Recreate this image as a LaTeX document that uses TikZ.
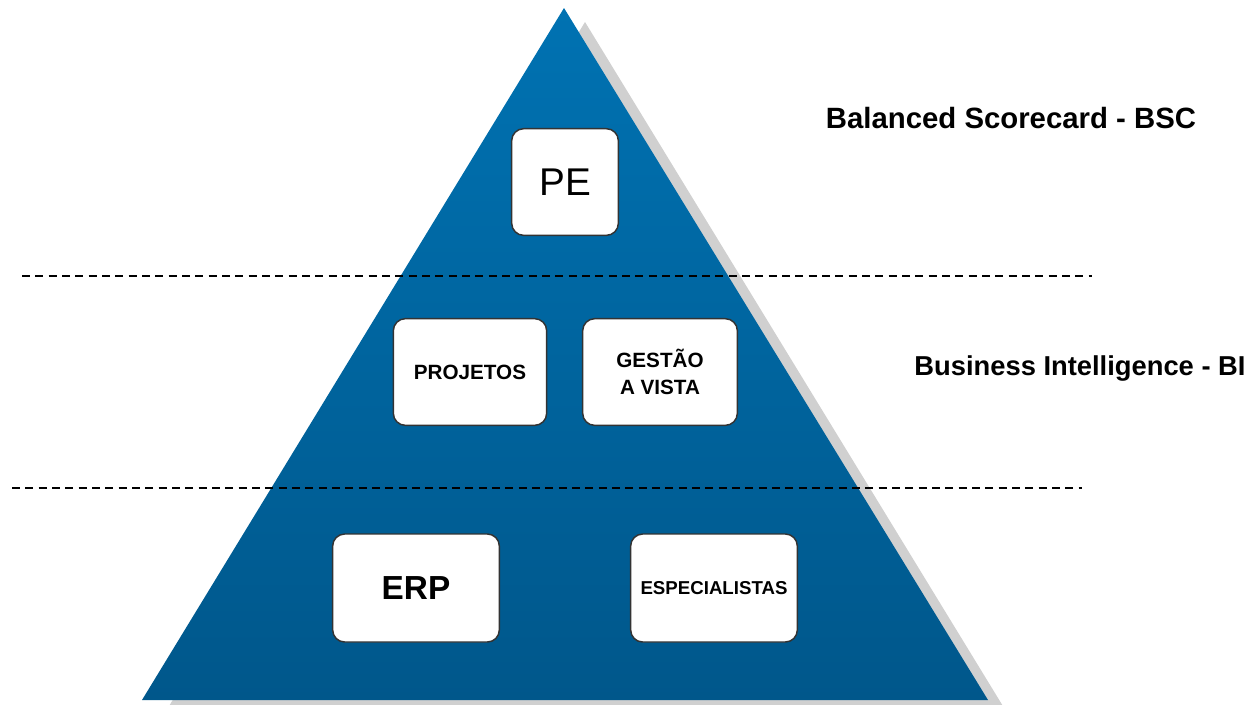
\documentclass[tikz,border=0pt]{standalone}
\usepackage{fontspec}
\setmainfont{Liberation Sans}
\definecolor{pyrTop}{RGB}{0,114,178}
\definecolor{pyrBot}{RGB}{0,87,139}
\definecolor{pyrShadow}{RGB}{208,208,208}

\begin{document}
\begin{tikzpicture}[x=0.75pt,y=-0.75pt,
    block/.style={rectangle, draw=black!80, line width=1.1pt, fill=white, rounded corners=9pt, align=center, inner sep=0pt},
    sep/.style={draw=black, line width=1.4pt, dash pattern=on 6pt off 4pt},
    level/.style={font=\fontsize{21}{25}\selectfont\bfseries, anchor=center}
]
    \useasboundingbox (0,0) rectangle (1248,704);
    % pyramid with its shadow
    \fill[pyrShadow] (585,22) -- (163,716) -- (1009,716) -- cycle;
    \shade[top color=pyrTop, bottom color=pyrBot] (564,8) -- (142,700) -- (988,700) -- cycle;

    % boxes
    \node[block, minimum width=80pt, minimum height=80pt, font=\fontsize{29}{32}\selectfont] (pe) at (565,182) {PE};
    \node[block, minimum width=115pt, minimum height=80pt, font=\fontsize{15.5}{20}\selectfont\bfseries] (proj) at (470,372) {PROJETOS};
    \node[block, minimum width=116pt, minimum height=80pt, font=\fontsize{15.5}{20}\selectfont\bfseries] (gest) at (660,372) {GESTÃO\\A VISTA};
    \node[block, minimum width=125pt, minimum height=81pt, font=\fontsize{25}{28}\selectfont\bfseries] (erp) at (416,588) {ERP};
    \node[block, minimum width=125pt, minimum height=81pt, font=\fontsize{14}{16}\selectfont\bfseries] (esp) at (714,588) {ESPECIALISTAS};

    % level separators
    \coordinate (s1a) at (22,276);
    \coordinate (s1b) at (1092,276);
    \coordinate (s2a) at (12,488);
    \coordinate (s2b) at (1082,488);
    \draw[sep] (s1a) -- (s1b);
    \draw[sep] (s2a) -- (s2b);

    % level labels
    \node[level, font=\fontsize{22}{26}\selectfont\bfseries] (bsc) at (1011,118) {Balanced Scorecard - BSC};
    \node[level, font=\fontsize{20.5}{24}\selectfont\bfseries] (bi) at (1080,368) {Business Intelligence - BI};
\end{tikzpicture}
\end{document}
